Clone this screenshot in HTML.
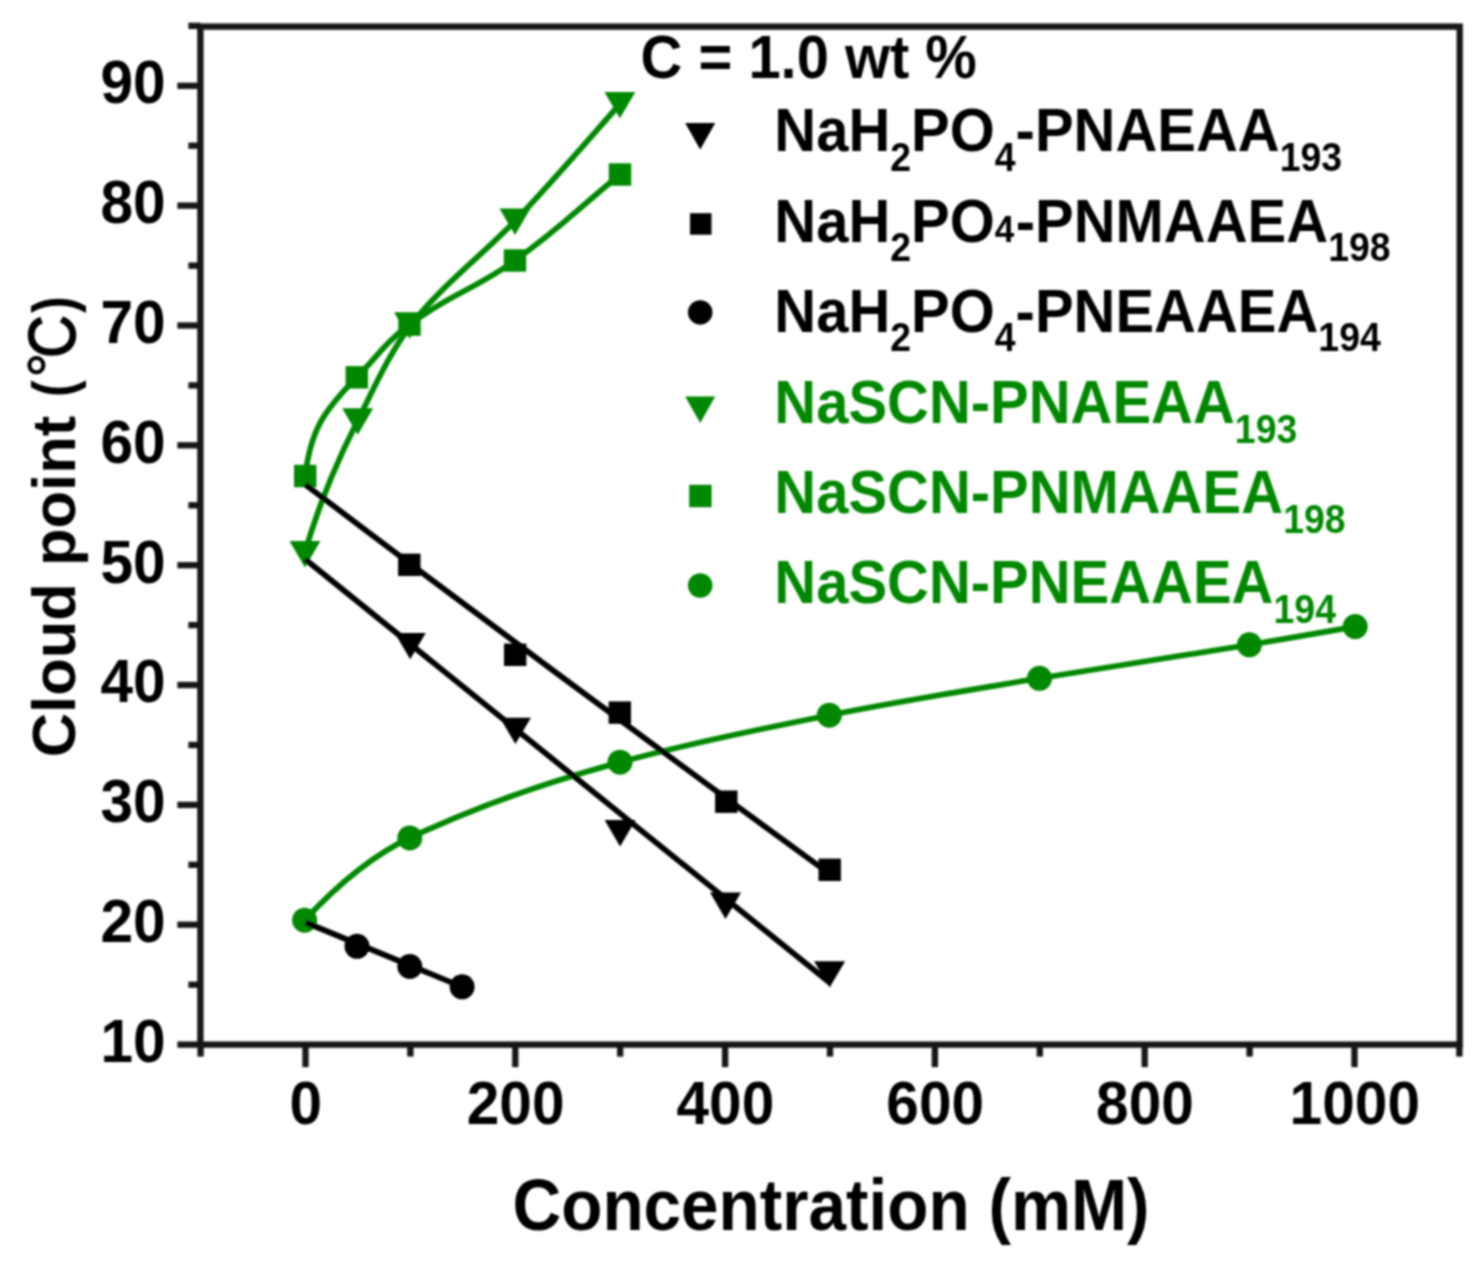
<!DOCTYPE html>
<html lang="en"><head><meta charset="utf-8"><title>Cloud point vs concentration</title>
<style>html,body{margin:0;padding:0;background:#fff}body{width:1476px;height:1269px;overflow:hidden}svg{display:block}text{font-family:"Liberation Sans",Arial,Helvetica,sans-serif;font-weight:bold;font-kerning:none}</style></head><body>
<svg width="1476" height="1269" viewBox="0 0 1476 1269">
<defs><filter id="soft" x="-2%" y="-2%" width="104%" height="104%"><feConvolveMatrix order="3" kernelMatrix="1 2 1 2 4 2 1 2 1" divisor="16" edgeMode="duplicate" preserveAlpha="false"/><feConvolveMatrix order="3" kernelMatrix="1 2 1 2 4 2 1 2 1" divisor="16" edgeMode="duplicate" preserveAlpha="false"/></filter></defs>
<rect width="1476" height="1269" fill="#fff"/>
<g filter="url(#soft)">
<g stroke="#161616" stroke-width="6.3" fill="none" stroke-linecap="butt">
<rect x="200.4" y="26.6" width="1259.3" height="1017.9999999999999"/>
<line x1="177.4" y1="1044.6" x2="200.4" y2="1044.6"/>
<line x1="188.4" y1="984.7" x2="200.4" y2="984.7"/>
<line x1="177.4" y1="924.7" x2="200.4" y2="924.7"/>
<line x1="188.4" y1="864.8" x2="200.4" y2="864.8"/>
<line x1="177.4" y1="804.9" x2="200.4" y2="804.9"/>
<line x1="188.4" y1="745.0" x2="200.4" y2="745.0"/>
<line x1="177.4" y1="685.0" x2="200.4" y2="685.0"/>
<line x1="188.4" y1="625.1" x2="200.4" y2="625.1"/>
<line x1="177.4" y1="565.2" x2="200.4" y2="565.2"/>
<line x1="188.4" y1="505.3" x2="200.4" y2="505.3"/>
<line x1="177.4" y1="445.3" x2="200.4" y2="445.3"/>
<line x1="188.4" y1="385.4" x2="200.4" y2="385.4"/>
<line x1="177.4" y1="325.5" x2="200.4" y2="325.5"/>
<line x1="188.4" y1="265.6" x2="200.4" y2="265.6"/>
<line x1="177.4" y1="205.6" x2="200.4" y2="205.6"/>
<line x1="188.4" y1="145.7" x2="200.4" y2="145.7"/>
<line x1="177.4" y1="85.8" x2="200.4" y2="85.8"/>
<line x1="188.4" y1="25.9" x2="200.4" y2="25.9"/>
<line x1="200.6" y1="1044.6" x2="200.6" y2="1056.6"/>
<line x1="305.5" y1="1044.6" x2="305.5" y2="1067.1"/>
<line x1="410.4" y1="1044.6" x2="410.4" y2="1056.6"/>
<line x1="515.3" y1="1044.6" x2="515.3" y2="1067.1"/>
<line x1="620.2" y1="1044.6" x2="620.2" y2="1056.6"/>
<line x1="725.1" y1="1044.6" x2="725.1" y2="1067.1"/>
<line x1="830.0" y1="1044.6" x2="830.0" y2="1056.6"/>
<line x1="934.9" y1="1044.6" x2="934.9" y2="1067.1"/>
<line x1="1039.8" y1="1044.6" x2="1039.8" y2="1056.6"/>
<line x1="1144.7" y1="1044.6" x2="1144.7" y2="1067.1"/>
<line x1="1249.6" y1="1044.6" x2="1249.6" y2="1056.6"/>
<line x1="1354.5" y1="1044.6" x2="1354.5" y2="1067.1"/>
<line x1="1459.4" y1="1044.6" x2="1459.4" y2="1056.6"/>
</g>
<g fill="#000" font-size="60.3">
<text transform="translate(165.6 1062.0) scale(0.972 1)" text-anchor="end">10</text>
<text transform="translate(165.6 942.1) scale(0.972 1)" text-anchor="end">20</text>
<text transform="translate(165.6 822.3) scale(0.972 1)" text-anchor="end">30</text>
<text transform="translate(165.6 702.4) scale(0.972 1)" text-anchor="end">40</text>
<text transform="translate(165.6 582.6) scale(0.972 1)" text-anchor="end">50</text>
<text transform="translate(165.6 462.7) scale(0.972 1)" text-anchor="end">60</text>
<text transform="translate(165.6 342.9) scale(0.972 1)" text-anchor="end">70</text>
<text transform="translate(165.6 223.0) scale(0.972 1)" text-anchor="end">80</text>
<text transform="translate(165.6 103.2) scale(0.972 1)" text-anchor="end">90</text>
<text transform="translate(305.8 1124.2) scale(0.972 1)" text-anchor="middle">0</text>
<text transform="translate(515.6 1124.2) scale(0.972 1)" text-anchor="middle">200</text>
<text transform="translate(725.4 1124.2) scale(0.972 1)" text-anchor="middle">400</text>
<text transform="translate(935.2 1124.2) scale(0.972 1)" text-anchor="middle">600</text>
<text transform="translate(1145.0 1124.2) scale(0.972 1)" text-anchor="middle">800</text>
<text transform="translate(1354.8 1124.2) scale(0.972 1)" text-anchor="middle">1000</text>
</g>
<text transform="translate(831 1230.3) scale(0.945 1)" font-size="71.4" text-anchor="middle" fill="#000">Concentration (mM)</text>
<g transform="rotate(-90)" fill="#000">
<text x="-757.3" y="74.5" font-size="61.5">Cloud point</text>
<text transform="translate(-397.0 73.6) scale(0.85 1)" font-size="59">(</text>
<text x="-377.8" y="71.5" font-size="63" style="font-weight:normal" stroke="#000" stroke-width="0.8">°</text>
<text transform="translate(-358.0 75.3) scale(0.9 1)" font-size="66" style="font-weight:normal" stroke="#000" stroke-width="1.6">C</text>
<text transform="translate(-313.0 73.6) scale(0.85 1)" font-size="59">)</text>
</g>
<rect x="398.1" y="553.6" width="22.4" height="22.4" fill="#000"/>
<rect x="504.0" y="643.6" width="22.4" height="22.4" fill="#000"/>
<rect x="608.6" y="701.4" width="22.4" height="22.4" fill="#000"/>
<rect x="715.1" y="790.5" width="22.4" height="22.4" fill="#000"/>
<rect x="818.5" y="858.6" width="22.4" height="22.4" fill="#000"/>
<polygon points="394.7,632.9 425.7,632.9 410.2,659.3" fill="#000"/>
<polygon points="499.9,717.7 530.9,717.7 515.4,744.1" fill="#000"/>
<polygon points="604.6,820.0 635.6,820.0 620.1,846.4" fill="#000"/>
<polygon points="710.0,892.5 741.0,892.5 725.5,918.9" fill="#000"/>
<polygon points="814.1,961.2 845.1,961.2 829.6,987.6" fill="#000"/>
<circle cx="357.0" cy="946.3" r="12.5" fill="#000"/>
<circle cx="409.8" cy="966.5" r="12.5" fill="#000"/>
<circle cx="462.1" cy="986.8" r="12.5" fill="#000"/>
<path d="M304.9,553.0 C317.6,507.2 336.2,462.9 357.7,420.5 C373.8,388.7 388.1,355.5 409.5,327.0 C439.4,287.1 480.5,257.0 515.0,221.0 C551.2,183.2 585.3,143.3 619.9,104.0" stroke="#008800" stroke-width="5.7" fill="none" stroke-linecap="round" stroke-linejoin="round"/>
<polygon points="289.5,541.1 320.5,541.1 305.0,567.5" fill="#008800"/>
<polygon points="342.2,408.3 373.2,408.3 357.7,434.7" fill="#008800"/>
<polygon points="394.1,312.3 425.1,312.3 409.6,338.7" fill="#008800"/>
<polygon points="499.5,208.5 530.5,208.5 515.0,234.9" fill="#008800"/>
<polygon points="604.4,91.9 635.4,91.9 619.9,118.3" fill="#008800"/>
<path d="M305.2,476.0 C310.8,429.6 324.0,410.6 356.8,377.3 C378.8,355.0 384.5,343.4 409.5,324.6 C451.0,293.5 472.8,290.7 515.0,260.5 C561.3,227.3 575.9,210.6 620.0,174.5" stroke="#008800" stroke-width="5.7" fill="none" stroke-linecap="round" stroke-linejoin="round"/>
<rect x="294.0" y="464.8" width="22.4" height="22.4" fill="#008800"/>
<rect x="345.6" y="366.1" width="22.4" height="22.4" fill="#008800"/>
<rect x="398.3" y="313.4" width="22.4" height="22.4" fill="#008800"/>
<rect x="503.8" y="249.3" width="22.4" height="22.4" fill="#008800"/>
<rect x="608.8" y="163.3" width="22.4" height="22.4" fill="#008800"/>
<path d="M304.6,920.2 C334.9,887.6 369.5,856.8 409.8,837.9 C477.2,806.2 548.1,781.7 620.0,762.2 C689.0,743.5 759.2,729.3 829.3,715.2 C899.0,701.2 969.3,690.1 1039.5,678.3 C1109.4,666.5 1179.5,656.6 1249.4,644.8 C1284.7,638.9 1319.9,632.8 1355.2,626.6" stroke="#008800" stroke-width="5.7" fill="none" stroke-linecap="round" stroke-linejoin="round"/>
<circle cx="304.6" cy="920.2" r="12.5" fill="#008800"/>
<circle cx="409.8" cy="837.9" r="12.5" fill="#008800"/>
<circle cx="620.0" cy="762.2" r="12.5" fill="#008800"/>
<circle cx="829.3" cy="715.2" r="12.5" fill="#008800"/>
<circle cx="1039.5" cy="678.3" r="12.5" fill="#008800"/>
<circle cx="1249.4" cy="644.8" r="12.5" fill="#008800"/>
<circle cx="1355.2" cy="626.6" r="12.5" fill="#008800"/>
<g stroke="#000" stroke-width="5.7" fill="none" stroke-linecap="butt">
<path d="M305.2,484.6 Q567.35,683.0 829.5,873.7"/>
<line x1="305.2" y1="559.3" x2="829.5" y2="982.5"/>
<line x1="305.6" y1="922.5" x2="462.1" y2="986.8"/>
</g>
<text transform="translate(640.6 78.2) scale(0.962 1)" font-size="60.2" fill="#000">C = 1.0 wt %</text>
<g fill="#000" transform="translate(774.3 151.3) scale(0.935 1)"><text x="0.0" y="0" font-size="62">NaH</text><text x="124.0" y="19.6" font-size="40">2</text><text x="146.3" y="0" font-size="62">PO</text><text x="235.9" y="19.6" font-size="40">4</text><text x="258.1" y="0" font-size="62">-PNAEAA</text><text x="540.6" y="19.6" font-size="40">193</text></g>
<g fill="#000" transform="translate(774.3 241.8) scale(0.935 1)"><text x="0.0" y="0" font-size="62">NaH</text><text x="124.0" y="19.6" font-size="40">2</text><text x="146.3" y="0" font-size="62">PO</text><text x="235.9" y="0" font-size="37.5">4</text><text x="258.3" y="0" font-size="62">-PNMAAEA</text><text x="592.4" y="19.6" font-size="40">198</text></g>
<g fill="#000" transform="translate(774.3 331.7) scale(0.935 1)"><text x="0.0" y="0" font-size="62">NaH</text><text x="124.0" y="19.6" font-size="40">2</text><text x="146.3" y="0" font-size="62">PO</text><text x="235.9" y="19.6" font-size="40">4</text><text x="258.1" y="0" font-size="62">-PNEAAEA</text><text x="581.9" y="19.6" font-size="40">194</text></g>
<g fill="#008800" transform="translate(774.3 423.1) scale(0.935 1)"><text x="0.0" y="0" font-size="62">NaSCN-PNAEAA</text><text x="492.6" y="19.6" font-size="40">193</text></g>
<g fill="#008800" transform="translate(774.3 513.4) scale(0.935 1)"><text x="0.0" y="0" font-size="62">NaSCN-PNMAAEA</text><text x="544.3" y="19.6" font-size="40">198</text></g>
<g fill="#008800" transform="translate(774.3 603.0) scale(0.935 1)"><text x="0.0" y="0" font-size="62">NaSCN-PNEAAEA</text><text x="534.0" y="19.6" font-size="40">194</text></g>
<polygon points="685.2,123.0 715.2,123.0 700.2,149.5" fill="#000"/>
<rect x="690.0" y="213.2" width="21.5" height="21.5" fill="#000"/>
<circle cx="700.2" cy="312.4" r="12.25" fill="#000"/>
<polygon points="685.2,396.5 715.2,396.5 700.2,423.0" fill="#008800"/>
<rect x="689.2" y="484.8" width="22.4" height="22.4" fill="#008800"/>
<circle cx="700.2" cy="585.5" r="12.25" fill="#008800"/>
</g></svg></body></html>
